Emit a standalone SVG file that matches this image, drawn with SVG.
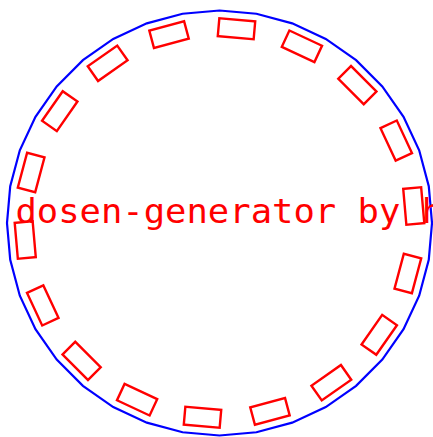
<svg xmlns="http://www.w3.org/2000/svg" width="433" height="437" viewBox="0 0 433 437">
<style>
.ring{fill:none;stroke:#0000ff;stroke-width:2.2}
.slot{fill:none;stroke:#ff0000;stroke-width:2.4}
.label{fill:#ff0000;font-family:"DejaVu Sans Mono","Liberation Mono",monospace;font-size:34px}
</style>
<rect width="433" height="437" fill="#ffffff"/>
<g id="ring">
<polygon class="ring" points="219.5,10.5 256.4,13.73 292.18,23.32 325.75,38.97 356.09,60.22 382.28,86.41 403.53,116.75 419.18,150.32 428.77,186.1 432,223 428.77,259.9 419.18,295.68 403.53,329.25 382.28,359.59 356.09,385.78 325.75,407.03 292.18,422.68 256.4,432.27 219.5,435.5 182.6,432.27 146.82,422.68 113.25,407.03 82.91,385.78 56.72,359.59 35.47,329.25 19.82,295.68 10.23,259.9 7,223 10.23,186.1 19.82,150.32 35.47,116.75 56.72,86.41 82.91,60.22 113.25,38.97 146.82,23.32 182.6,13.73"/>
</g>
<defs>
<rect id="s" class="slot" x="-18" y="-204" width="36" height="18"/>
</defs>
<g id="slots" transform="translate(219.5,223)">
<g id="slot1"><use href="#s" transform="rotate(5)"/></g>
<g id="slot2"><use href="#s" transform="rotate(25)"/></g>
<g id="slot3"><use href="#s" transform="rotate(45)"/></g>
<g id="slot4"><use href="#s" transform="rotate(65)"/></g>
<g id="slot5"><use href="#s" transform="rotate(85)"/></g>
<g id="slot6"><use href="#s" transform="rotate(105)"/></g>
<g id="slot7"><use href="#s" transform="rotate(125)"/></g>
<g id="slot8"><use href="#s" transform="rotate(145)"/></g>
<g id="slot9"><use href="#s" transform="rotate(165)"/></g>
<g id="slot10"><use href="#s" transform="rotate(185)"/></g>
<g id="slot11"><use href="#s" transform="rotate(205)"/></g>
<g id="slot12"><use href="#s" transform="rotate(225)"/></g>
<g id="slot13"><use href="#s" transform="rotate(245)"/></g>
<g id="slot14"><use href="#s" transform="rotate(265)"/></g>
<g id="slot15"><use href="#s" transform="rotate(285)"/></g>
<g id="slot16"><use href="#s" transform="rotate(305)"/></g>
<g id="slot17"><use href="#s" transform="rotate(325)"/></g>
<g id="slot18"><use href="#s" transform="rotate(345)"/></g>
</g>
<g id="title">
<text class="label" transform="translate(15.4,223) scale(1.045,1)">dosen-generator by h</text>
</g>
</svg>
